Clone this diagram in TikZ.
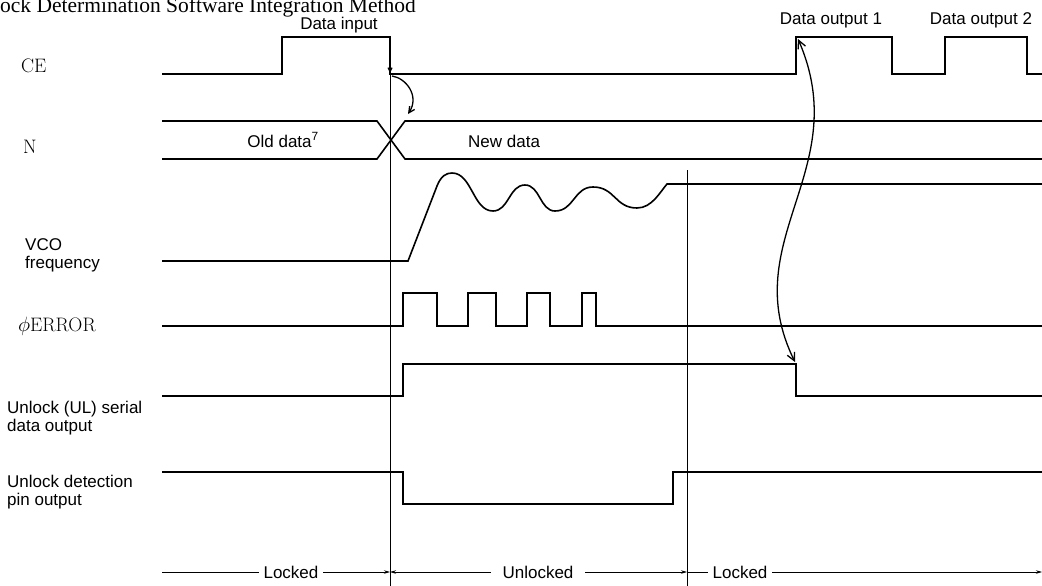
\documentclass[tikz,border=0pt]{standalone}
\usepackage{fontspec}
\newfontfamily\sansf{Liberation Sans}
\newfontfamily\titlef{Liberation Serif}
\usetikzlibrary{arrows.meta}
\newcommand\twoline[2]{\vtop{\baselineskip=18pt\hbox{#1}\hbox{#2}}}
\begin{document}
\begin{tikzpicture}[x=1pt,y=-1pt,
  sig/.style={line width=1.6pt, line join=miter},
  marker/.style={line width=0.8pt},
  slabel/.style={font=\sansf\fontsize{17}{18}\selectfont, inner sep=0pt},
  rlabel/.style={font=\fontsize{19.5}{20}\selectfont, inner sep=0pt},
  bar/.style={line width=0.7pt},
  smalltip/.style={-{Stealth[length=6pt,width=3.5pt]}},
  curvearrow/.style={line width=1.3pt},
]
\useasboundingbox (0,0) rectangle (1042,586);

% title
\node[font=\titlef\fontsize{21.5}{22}\selectfont, anchor=base west, inner sep=0pt] (title) at (0,13) {ock Determination Software Integration Method};

% top labels
\node[slabel, anchor=base] (din) at (339,30) {Data input};
\node[slabel, anchor=base] (dout1) at (831,25) {Data output 1};
\node[slabel, anchor=base] (dout2) at (981,25) {Data output 2};

% signal names
\node[rlabel, anchor=base west] (lce) at (21,73) {CE};
\node[rlabel, anchor=base west] (ln) at (23,153) {N};
\node[slabel, anchor=base west] (lvco) at (25,250) {\twoline{VCO}{frequency}};
\node[rlabel, anchor=base west] (lerr) at (18,331) {$\phi$ERROR};
\node[slabel, anchor=base west] (lul) at (7,413) {\twoline{Unlock (UL) serial}{data output}};
\node[slabel, anchor=base west] (lud) at (7,487) {\twoline{Unlock detection}{pin output}};

% bus labels
\node[slabel, anchor=base east] (old) at (319,147) {Old data\textsuperscript{7}};
\node[slabel, anchor=base west] (new) at (468,147) {New data};

% marker lines
\draw[marker] (390,37) -- (390,586);
\draw[marker] (687,170) -- (687,586);

% CE
\draw[sig] (162,74) -- (282,74) -- (282,37) -- (390,37) -- (390,74) -- (796,74) -- (796,37) -- (892,37) -- (892,74) -- (945,74) -- (945,37) -- (1027,37) -- (1027,74) -- (1042,74);
\draw[line width=1.2pt, -{Straight Barb[length=4pt,width=4pt]}] (390,60) -- (390,73);

% N bus
\draw[sig] (162,121) -- (377,121) -- (405,159) -- (1042,159);
\draw[sig] (162,159) -- (377,159) -- (405,121) -- (1042,121);

% small curved arrow CE -> N
\coordinate (cefall) at (392,76);
\coordinate (nchange) at (408,114);
\draw[curvearrow, -{Straight Barb[length=6pt,width=6pt]}] (cefall) .. controls (406,78) and (420,96) .. (nchange);

% VCO
\draw[sig] (162,261) -- (408,261) -- (437,186) .. controls (441,176) and (446,173) .. (452,173)
  .. controls (472,173) and (473,211) .. (493,211)
  .. controls (509,211) and (509,185) .. (525,185)
  .. controls (540,185) and (540,211) .. (555,211)
  .. controls (574,211) and (574,187) .. (593,187)
  .. controls (615,187) and (615,208) .. (637,208)
  .. controls (652,208) and (660,192) .. (667,184) -- (1042,184);

% phi ERROR
\draw[sig] (162,326) -- (403,326) -- (403,293) -- (437,293) -- (437,326) -- (468,326) -- (468,293) -- (496,293) -- (496,326) -- (527,326) -- (527,293) -- (550,293) -- (550,326) -- (582,326) -- (582,293) -- (596,293) -- (596,326) -- (1042,326);

% UL serial output
\draw[sig] (162,396) -- (403,396) -- (403,364) -- (796,364) -- (796,396) -- (1042,396);

% Unlock detection pin output
\draw[sig] (162,472) -- (403,472) -- (403,504) -- (673,504) -- (673,472) -- (1042,472);

% big double arrow
\coordinate (ce1) at (798,39);
\coordinate (ulf) at (795,362);
\draw[curvearrow, {Straight Barb[length=8pt,width=8pt]}-{Straight Barb[length=8pt,width=8pt]}] (ce1) .. controls (855,170) and (735,240) .. (ulf);

% bottom state bar
\coordinate (lstart) at (162,572);
\coordinate (m1) at (390,572);
\coordinate (m2) at (687,572);
\coordinate (lend) at (1042,572);
\node[slabel, outer sep=5pt] (lk1) at (291,572) {Locked};
\node[slabel, outer sep=12pt] (unl) at (538,572) {Unlocked};
\node[slabel, outer sep=5pt] (lk2) at (740,572) {Locked};
\draw[bar] (lstart) -- (lk1);
\draw[bar, smalltip] (lk1) -- (m1);
\draw[bar, smalltip] (unl) -- (m1);
\draw[bar, smalltip] (unl) -- (m2);
\draw[bar] (m2) -- (lk2);
\draw[bar, smalltip] (lk2) -- (lend);
\end{tikzpicture}
\end{document}
